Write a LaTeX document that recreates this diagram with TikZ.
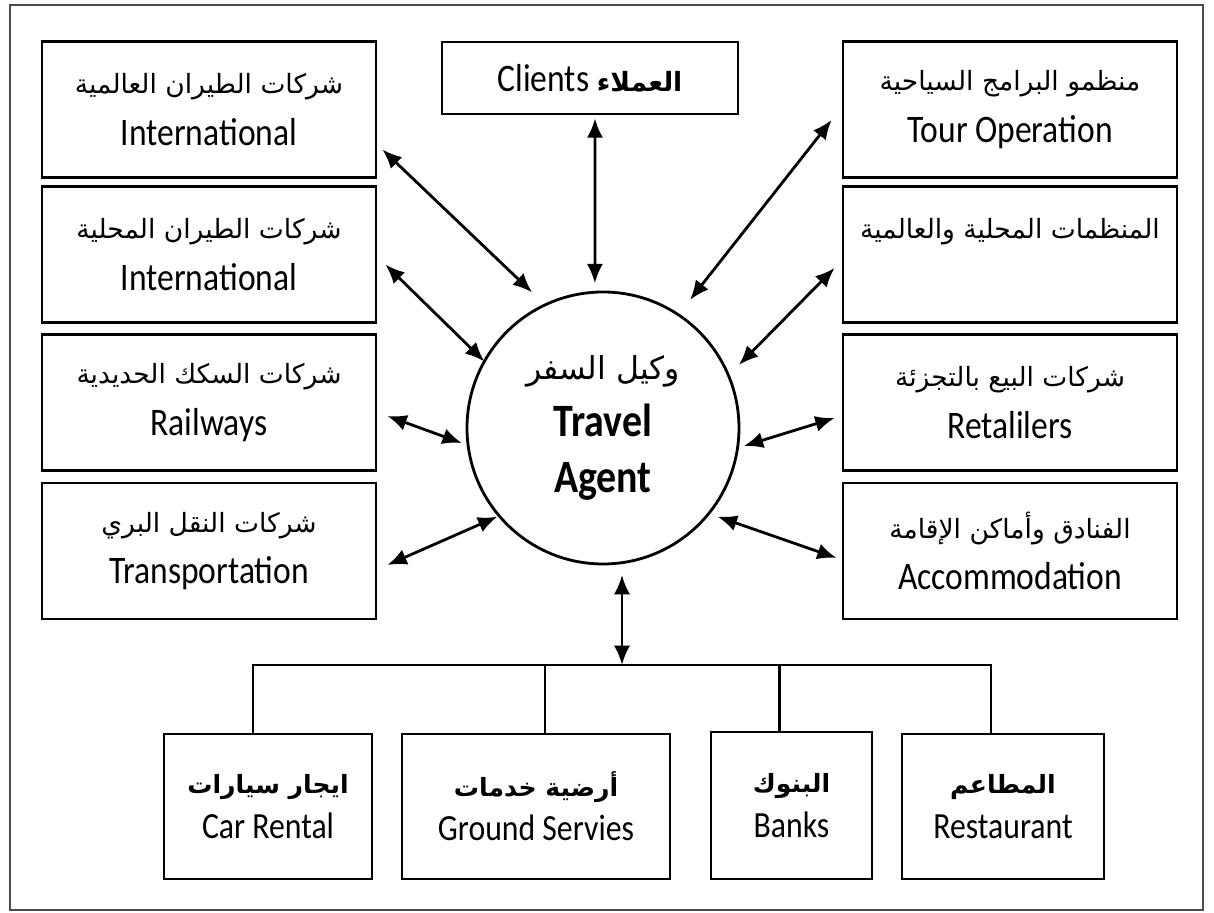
\documentclass[tikz,border=0pt]{standalone}
\usepackage{fontspec}
\setmainfont{Carlito}[FakeStretch=0.86]
\newfontfamily\arabicfont[Script=Arabic,Scale=0.68]{DejaVu Sans}
\TeXXeTstate=1
\usetikzlibrary{arrows.meta,calc}
\newcommand{\artxt}[1]{{\arabicfont\beginR #1\endR}}
\begin{document}
\begin{tikzpicture}[
	box/.style={draw, line width=0.8pt, minimum width=3.34cm, minimum height=1.36cm, inner sep=0pt, align=center, font=\fontsize{11.1}{14.6}\selectfont},
	subbox/.style={draw, line width=0.8pt, minimum height=1.45cm, inner sep=0pt, align=center, font=\fontsize{10.5}{12.6}\selectfont},
	hub/.style={draw, circle, line width=0.8pt, minimum size=2.72cm, inner sep=0pt, align=center, font=\fontsize{13.2}{16.2}\selectfont},
	link/.style={{Latex[length=5.5pt,width=4.6pt]}-{Latex[length=5.5pt,width=4.6pt]}, line width=0.8pt}
	]
	\useasboundingbox (0,0) rectangle (12.14,-9.13);
	\draw [line width=0.5pt, black!70] (0.10,-0.05) rectangle (12.03,-9.10);
	% travel agent in the middle
	\node[hub] (ta) at (6.03,-4.28) {\artxt{وكيل السفر}\\\textbf{Travel}\\\textbf{Agent}};
	\node[box, minimum width=2.96cm, minimum height=0.72cm] (cl) at (5.90,-0.78) {Clients \artxt{\bfseries العملاء}};
	% left column
	\node[box] (lt1) at (2.09,-1.095) {\artxt{شركات الطيران العالمية}\\International};
	\node[box] (lt2) at (2.09,-2.545) {\artxt{شركات الطيران المحلية}\\International};
	\node[box] (lt3) at (2.09,-4.025) {\artxt{شركات السكك الحديدية}\\Railways};
	\node[box] (lt4) at (2.09,-5.51) {\artxt{شركات النقل البري}\\Transportation};
	% right column
	\node[box] (rt1) at (10.10,-1.095) {\artxt{منظمو البرامج السياحية}\\Tour Operation};
	\node[box] (rt2) at (10.10,-2.545) {\artxt{المنظمات المحلية والعالمية}\\~};
	\node[box] (rt3) at (10.10,-4.025) {\artxt{شركات البيع بالتجزئة}\\Retalilers};
	\node[box] (rt4) at (10.10,-5.51) {\artxt{الفنادق وأماكن الإقامة}\\Accommodation};
	% services along the bottom
	\node[subbox, minimum width=2.08cm] (car) at (2.68,-8.065) {\artxt{\bfseries ايجار سيارات}\\Car Rental};
	\node[subbox, minimum width=2.68cm] (ground) at (5.36,-8.065) {\artxt{\bfseries أرضية خدمات}\\Ground Servies};
	\node[subbox, minimum width=1.61cm, minimum height=1.47cm] (banks) at (7.915,-8.055) {\artxt{\bfseries البنوك}\\Banks};
	\node[subbox, minimum width=2.02cm] (rest) at (10.03,-8.065) {\artxt{\bfseries المطاعم}\\Restaurant};
	\coordinate (bus) at (6.22,-6.65);
	\draw [line width=0.6pt] ($(car.north)+(-0.15,0)$) |- (bus) -| ($(rest.north)+(-0.12,0)$);
	\draw [line width=0.6pt] ($(ground.north)+(0.09,0)$) -- ($(ground.north |- bus)+(0.09,0)$);
	\draw [line width=0.6pt] ($(banks.north)+(-0.12,0)$) -- ($(banks.north |- bus)+(-0.12,0)$);
	% two-way links to the agent
	\draw[link] ($(lt1.east)+(0.05,-0.40)$) -- ($(ta.center)+(117.6:1.53)$);
	\draw[link] ($(lt2.east)+(0.08,-0.10)$) -- ($(ta.center)+(150.7:1.36)$);
	\draw[link] ($(lt3.east)+(0.10,-0.135)$) -- ($(ta.center)+(186.1:1.42)$);
	\draw[link] ($(lt4.east)+(0.10,-0.14)$) -- ($(ta.center)+(220:1.38)$);
	\draw[link] ($(cl.south)+(0.05,-0.03)$) -- ($(ta.center)+(93.2:1.45)$);
	\draw[link] ($(rt1.west)+(-0.10,-0.105)$) -- ($(ta.center)+(55.8:1.55)$);
	\draw[link] ($(rt2.west)+(-0.07,-0.135)$) -- ($(ta.center)+(24.9:1.50)$);
	\draw[link] ($(rt3.west)+(-0.07,-0.155)$) -- ($(ta.center)+(-7.3:1.42)$);
	\draw[link] ($(rt4.west)+(-0.05,-0.07)$) -- ($(ta.center)+(-37.7:1.45)$);
	\draw[link] (bus) -- ($(ta.center)+(0.19,-1.47)$);
\end{tikzpicture}
\end{document}
